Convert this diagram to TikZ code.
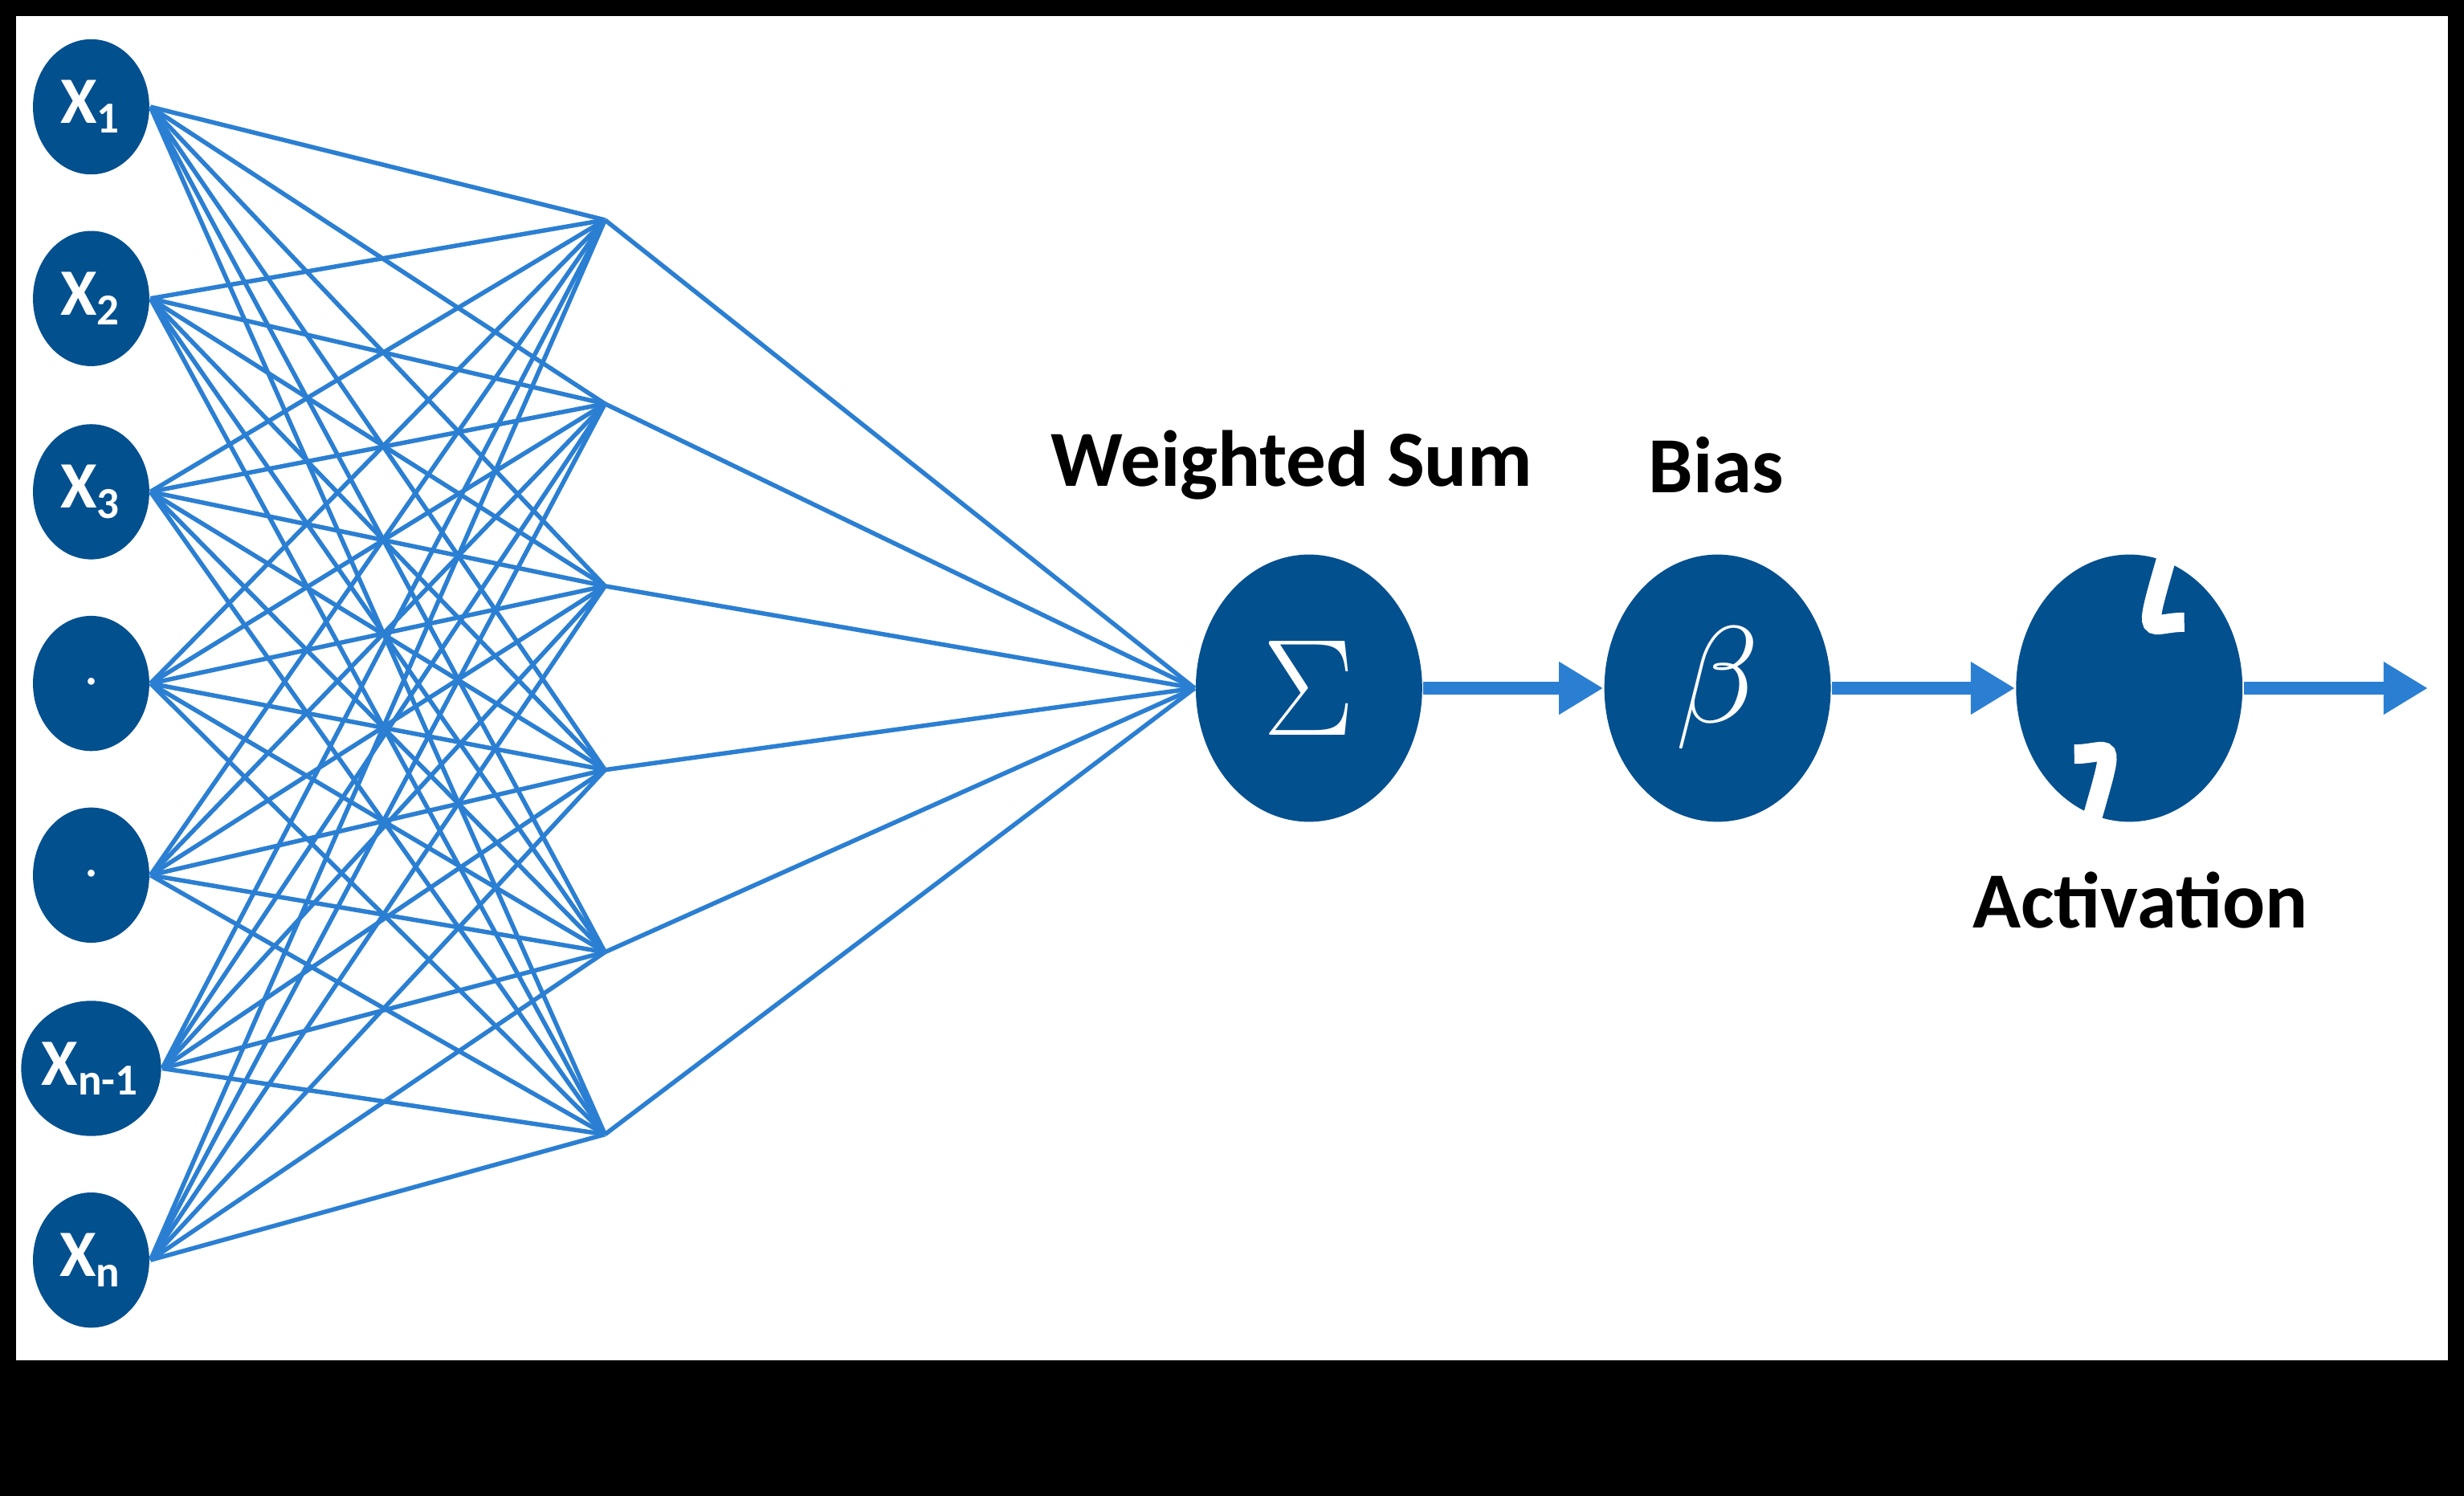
\documentclass[tikz,border=0pt]{standalone}
\usepackage{fontspec}
\setmainfont{Carlito}
\usetikzlibrary{shapes.geometric,calc,arrows.meta}
\definecolor{nodeblue}{HTML}{03508F}
\definecolor{wireblue}{HTML}{2B7FD2}
\begin{document}
\begin{tikzpicture}[x=0.01cm,y=-0.01cm]
\tikzset{inp/.style={ellipse,fill=nodeblue,text=white,minimum width=0.74cm,minimum height=0.86cm,inner sep=0pt,font=\bfseries\large},
  big/.style={ellipse,fill=nodeblue,text=white,minimum width=1.44cm,minimum height=1.70cm,inner sep=0pt,font=\bfseries\Huge},
  wire/.style={wireblue,line width=0.8pt},
  flow/.style={wireblue,line width=2.2pt,-{Triangle[length=8pt,width=9pt]}},
  lbl/.style={font=\bfseries\Large}}
% frame
\fill[black] (0,0) rectangle (1568,952);
\fill[white] (10,10) rectangle (1558,866);
% inputs
\node[inp] (x1) at (58,68) {X\textsubscript{1}};
\node[inp] (x2) at (58,190) {X\textsubscript{2}};
\node[inp] (x3) at (58,313) {X\textsubscript{3}};
\node[inp] (x4) at (58,435) {$\cdot$};
\node[inp] (x5) at (58,557) {$\cdot$};
\node[inp] (x6) at (58,680) {X\textsubscript{n-1}};
\node[inp] (x7) at (58,802) {X\textsubscript{n}};
% hidden points
\foreach \i/\y in {1/140,2/257,3/373,4/490,5/606,6/722}
  \coordinate (h\i) at (385,\y);
% main chain
\node[big] (sum) at (833,438) {$\Sigma$};
\node[big] (bias) at (1093,438) {$\beta$};
\node[big] (act) at (1355,438) {};
\coordinate (out) at (1545,438);
\node[lbl] (wlbl) at (822,296) {Weighted Sum};
\node[lbl] (blbl) at (1092,296) {Bias};
\node[lbl] (albl) at (1362,573) {Activation};
% wires
\foreach \i in {1,...,7}
  \foreach \j in {1,...,6}
    \draw[wire] (x\i.east) -- (h\j);
\foreach \j in {1,...,6}
  \draw[wire] (h\j) -- (sum.west);
\draw[flow] (sum.east) -- (bias.west);
\draw[flow] (bias.east) -- (act.west);
\draw[flow] (act.east) -- (out);
% sigmoid
\draw[white,line width=3.5pt] ($(act)+(-35,42)$) .. controls ($(act)+(-12,42)$) and ($(act)+(-8,28)$) .. (act)
  .. controls ($(act)+(8,-28)$) and ($(act)+(12,-42)$) .. ($(act)+(35,-42)$);
\end{tikzpicture}
\end{document}
